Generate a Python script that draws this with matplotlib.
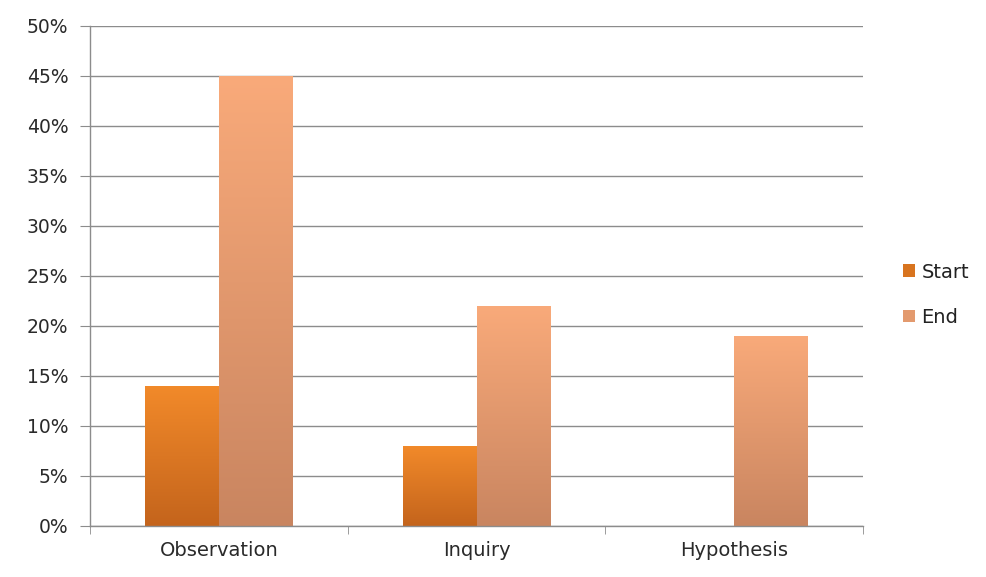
import numpy as np
import matplotlib
matplotlib.use("Agg")
import matplotlib.pyplot as plt
from matplotlib.colors import LinearSegmentedColormap
from matplotlib.ticker import FixedLocator, FuncFormatter
from matplotlib.patches import Patch

categories = ["Observation", "Inquiry", "Hypothesis"]
series_names = ["Start", "End"]
start_vals = [14, 8, 0]
end_vals = [45, 22, 19]
yticks = [0, 5, 10, 15, 20, 25, 30, 35, 40, 45, 50]

fig = plt.figure(figsize=(9.87, 5.77), dpi=100)
ax = fig.add_axes([0.0912, 0.0884, 0.7832, 0.8666])

x = np.arange(len(categories))
w = 0.287
grad_start = ("#C4641C", "#F28A2A")
grad_end = ("#C98560", "#F9AA7A")

def gradient_bars(bars, cols):
    cmap = LinearSegmentedColormap.from_list("g", list(cols))
    grad = np.linspace(0, 1, 256).reshape(-1, 1)
    for b in bars:
        h = b.get_height()
        if h <= 0:
            continue
        b.set_facecolor("none")
        x0 = b.get_x()
        im = ax.imshow(grad, cmap=cmap, aspect="auto", origin="lower",
                       extent=[x0, x0 + b.get_width(), 0, h], zorder=2,
                       interpolation="bilinear")
        im.set_clip_path(b)

b1 = ax.bar(x - w / 2, start_vals, w, color=grad_start[1], zorder=2,
            linewidth=0, label=series_names[0])
b2 = ax.bar(x + w / 2, end_vals, w, color=grad_end[1], zorder=2,
            linewidth=0, label=series_names[1])
gradient_bars(b1, grad_start)
gradient_bars(b2, grad_end)

ax.set_xlim(-0.5, 2.5)
ax.set_ylim(0, 50)
ax.yaxis.set_major_locator(FixedLocator(yticks))
ax.yaxis.set_major_formatter(FuncFormatter(lambda v, p: f"{int(v)}%"))
ax.grid(axis="y", color="#8C8C8C", linewidth=1.0, zorder=0)
ax.set_axisbelow(True)

ax.set_xticks(x)
ax.set_xticklabels(categories)
ax.set_xticks([-0.5, 0.5, 1.5, 2.5], minor=True)
ax.tick_params(axis="x", which="major", length=0, pad=11, labelsize=14, labelcolor="#2A2A2A")
ax.tick_params(axis="x", which="minor", length=6, color="#8C8C8C", direction="out")
ax.tick_params(axis="y", length=7.2, color="#8C8C8C", direction="out", pad=8.5,
               labelsize=13.5, labelcolor="#2A2A2A")

for s in ["top", "right"]:
    ax.spines[s].set_visible(False)
for s in ["left", "bottom"]:
    ax.spines[s].set_color("#8C8C8C")
    ax.spines[s].set_linewidth(1.0)

handles = [Patch(facecolor="#D8741F"), Patch(facecolor="#E39A6E")]
leg = fig.legend(handles, series_names, loc="center left",
                 bbox_to_anchor=(0.915, 0.489), frameon=False, fontsize=14,
                 handlelength=0.6, handleheight=0.6, handletextpad=0.35,
                 labelspacing=1.37, labelcolor="#222222",
                 borderpad=0, borderaxespad=0)

fig.savefig("out.png", dpi=100)
